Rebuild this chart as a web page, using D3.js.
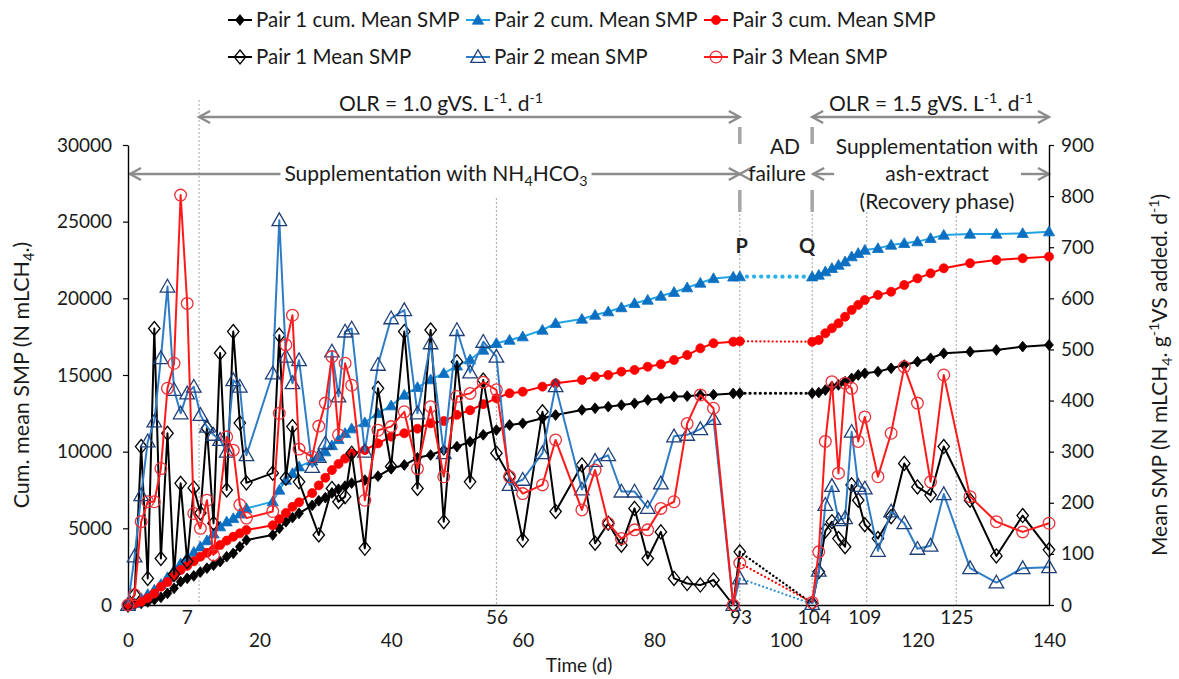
<!DOCTYPE html>
<html><head><meta charset="utf-8">
<script src="https://cdn.jsdelivr.net/npm/d3@7"></script>
<style>
body{margin:0;background:#fff;}
svg{display:block;}
</style></head><body>
<svg id="chart" width="1179" height="679"></svg>
<script>
// ---------------- DATA ----------------
// Phase 1 (supplementation with NH4HCO3), days 0-93
const DAYS_A = [0,1,2,3,4,5,6,7,8,9,10,11,12,13,14,15,16,17,18,22,23,24,25,26,28,29,30,31,32,33,34,36,38,40,42,44,46,48,50,52,54,56,58,60,63,65,69,71,73,75,77,79,81,83,85,87,89,92,93];
const P1_CUM_A = [0,30,100,200,350,500,760,1090,1520,1740,1900,2150,2400,2600,2830,3150,3370,3800,4240,4565,5000,5430,5700,5980,6500,6800,7000,7300,7550,7750,7950,8150,8400,8900,9130,9600,9780,10110,10330,10650,11100,11410,11740,11850,12180,12390,12720,12830,12935,13040,13150,13370,13480,13590,13620,13700,13720,13800,13810];
const P2_CUM_A = [0,110,435,700,980,1350,1800,2280,2700,3100,3450,3800,4200,4650,5110,5430,5650,5950,6300,6740,7500,8150,8590,9020,9400,9670,10000,10400,10800,11200,11500,11900,12500,13000,13700,14200,14700,15110,15600,16000,16630,17070,17280,17500,17935,18370,18650,18910,19130,19400,19675,19890,20150,20400,20700,21000,21300,21400,21420];
const P3_CUM_A = [0,80,215,450,750,1190,1500,1900,2280,2550,2850,3150,3400,3600,3910,4200,4450,4675,4890,5200,5600,6000,6400,6700,7300,7800,8300,8800,9200,9550,9890,10110,10540,10980,11200,11500,11850,12000,12400,12700,13100,13480,13810,13910,14240,14460,14675,14890,15000,15220,15330,15540,15700,15980,16300,16740,17070,17170,17200];
const P1_MEAN_A = [0,20,310,52,541,91,336,60,238,85,229,180,346,160,493,225,535,356,239,258,528,248,349,241,null,137,null,228,202,212,297,111,424,271,535,228,538,163,476,241,440,297,251,127,378,183,274,121,160,117,189,91,143,52,42,39,49,0,104];
const P2_MEAN_A = [0,95,215,320,359,483,623,421,375,414,427,372,349,333,323,300,440,427,293,453,753,486,434,479,270,290,316,496,408,535,541,300,470,561,577,375,512,297,538,455,515,486,235,245,297,428,226,282,293,222,222,190,238,330,333,344,364,0,52];
const P3_MEAN_A = [0,20,163,202,202,267,424,473,802,590,179,150,205,98,null,329,303,196,170,183,375,509,567,305,290,350,395,486,333,473,430,205,342,349,378,267,388,251,408,414,436,421,251,218,235,323,186,264,160,130,147,147,189,202,355,411,385,0,82];

// Phase 2 (recovery with ash-extract), days 104-140
const DAYS_B = [104,105,106,107,108,109,110,111,112,114,116,118,120,122,124,128,132,136,140];
const P1_CUM_B = [13810,13850,14020,14240,14350,14560,14780,15000,15110,15220,15440,15650,15870,16090,16415,16520,16630,16850,16960];
const P2_CUM_B = [21410,21520,21740,21960,22170,22390,22720,22940,23150,23260,23480,23590,23700,23910,24130,24200,24200,24240,24350];
const P3_CUM_B = [17170,17280,17720,18050,18370,18800,19240,19570,19890,20220,20430,20870,21300,21630,21960,22290,22500,22610,22720];
const P1_MEAN_B = [3,65,145,163,130,114,235,205,157,130,173,277,231,215,310,205,96,175,108];
const P2_MEAN_B = [2,67,196,233,166,170,339,233,228,106,183,160,110,116,217,72,44,72,74];
const P3_MEAN_B = [5,104,320,437,258,434,424,320,368,251,336,466,395,241,450,212,163,143,160];

// Tick labels
const X_TICKS = [0,20,40,60,80,100,120,140];
const LEFT_TICKS = [0,5000,10000,15000,20000,25000,30000];
const RIGHT_TICKS = [0,100,200,300,400,500,600,700,800,900];
const KEY_DAY_LABELS = ["7","56","93","104","109","125"];
const KEY_DAY_LABEL_AT = [9,56.1,93.2,104.3,112,126];   // where the label text sits on the time axis
const KEY_DAY_LINE_AT  = [10.8,56,93,104,112.3,125.9];   // where the dotted guide is drawn
const KEY_DAY_LINE_TOP = [100,198,210,210,212,212];

const SERIES_NAMES = ["Pair 1 cum. Mean SMP","Pair 2 cum. Mean SMP","Pair 3 cum. Mean SMP","Pair 1 Mean SMP","Pair 2 mean SMP","Pair 3 Mean SMP"];

// ---------------- SETUP ----------------
const FONT = "Lato, 'Liberation Sans', sans-serif";
const TXT = "#1a1a1a";
const GRAY = "#8c8c8c";
const ANN_FS = 21;
const svg = d3.select("#chart").style("font-family", FONT);
const m = {l:128, r:1049, t:145, b:605};
const x = d3.scaleLinear().domain([0,140]).range([m.l, m.r]);
const yL = d3.scaleLinear().domain([0,30000]).range([m.b, m.t]);
const yR = d3.scaleLinear().domain([0,900]).range([m.b, m.t]);

const STY = {
  c1: {line:"#000", mark:"diamond", fill:"#000", stroke:"#000", size:1},
  c2: {line:"#22a3e3", mark:"triangle", fill:"#0b6fc2", stroke:"#0b6fc2", size:1},
  c3: {line:"#ff0000", mark:"circle", fill:"#f00", stroke:"#f00", size:1},
  m1: {line:"#000", mark:"diamond", fill:"none", stroke:"#000", size:1.3},
  m2: {line:"#2f7cc6", mark:"triangle", fill:"none", stroke:"#1f3f78", size:1.3},
  m3: {line:"#ff1a1a", mark:"circle", fill:"none", stroke:"#e8333b", size:1.3}
};

function markerPath(type, s){
  if(type==="diamond"){ const w=4.4*s, h=5.4*s; return `M0,${-h}L${w},0L0,${h}L${-w},0Z`; }
  if(type==="triangle"){ const w=5.6*s, h=5.6*s; return `M0,${-h}L${w},${h*0.75}L${-w},${h*0.75}Z`; }
  const r=4.5*s; return `M${r},0A${r},${r} 0 1,1 ${-r},0A${r},${r} 0 1,1 ${r},0Z`;
}

// ---------------- GUIDES / ANNOTATIONS ----------------
const ann = svg.append("g");
KEY_DAY_LINE_AT.forEach((d,i)=>{
  ann.append("line").attr("x1",x(d)).attr("x2",x(d)).attr("y1",KEY_DAY_LINE_TOP[i]).attr("y2",m.b)
    .attr("stroke","#9a9a9a").attr("stroke-width",0.9).attr("stroke-dasharray","2,2");
});
[93,104].forEach(d=>{
  [[127,144],[190,212]].forEach(s=>{
    ann.append("line").attr("x1",x(d)).attr("x2",x(d)).attr("y1",s[0]).attr("y2",s[1])
      .attr("stroke","#a6a6a6").attr("stroke-width",3.5);
  });
});

function chevron(tipX, y, dir){
  const L=11, H=6;
  ann.append("path").attr("d",`M${tipX - dir*L},${y-H}L${tipX},${y}L${tipX - dir*L},${y+H}`)
    .attr("fill","none").attr("stroke",GRAY).attr("stroke-width",2.4);
}
function hline(x1,x2,y){
  ann.append("line").attr("x1",x1).attr("x2",x2).attr("y1",y).attr("y2",y).attr("stroke",GRAY).attr("stroke-width",2.4);
}
function richText(g, xPos, yPos, parts, size, anchor){
  const t = g.append("text").attr("x",xPos).attr("y",yPos).attr("font-size",size)
    .attr("fill",TXT).attr("text-anchor",anchor||"middle");
  let shift=0;
  parts.forEach(p=>{
    const want = p.sup ? -0.38*size : p.sub ? 0.25*size : 0;
    const ts = t.append("tspan").text(p.t).attr("dy", want - shift);
    if(p.sup||p.sub) ts.attr("font-size", size*0.68);
    shift = want;
  });
  return t;
}
function plainText(xPos, yPos, s, size){
  ann.append("text").attr("x",xPos).attr("y",yPos).attr("text-anchor","middle").attr("font-size",size).attr("fill",TXT).text(s);
}

// OLR arrows
hline(x(10.8), x(93), 117); chevron(x(10.8),117,-1); chevron(x(93),117,1);
hline(x(104), x(140), 117); chevron(x(104),117,-1); chevron(x(140),117,1);
richText(ann, 441, 111, [{t:"OLR = 1.0 gVS. L"},{t:"-1",sup:true},{t:". d"},{t:"-1",sup:true}], ANN_FS);
richText(ann, 931, 111, [{t:"OLR = 1.5 gVS. L"},{t:"-1",sup:true},{t:". d"},{t:"-1",sup:true}], ANN_FS);

// Supplementation arrow
const supT = richText(ann, 436, 181, [{t:"Supplementation with NH"},{t:"4",sub:true},{t:"HCO"},{t:"3",sub:true}], ANN_FS);
const bb = supT.node().getBBox();
hline(x(0)+2, bb.x-4, 174); hline(bb.x+bb.width+4, x(93), 174);
chevron(x(0)+2,174,-1); chevron(x(93),174,1); chevron(x(93),174,-1);
hline(x(104), x(104)+22, 174); chevron(x(104)+1,174,-1);
hline(x(140)-28, x(140), 174); chevron(x(140),174,1);
plainText(785,154,"AD",ANN_FS);
plainText(777,181,"failure",ANN_FS);
plainText(937,154,"Supplementation with",ANN_FS);
plainText(937,181,"ash-extract",ANN_FS);
plainText(937,209,"(Recovery phase)",ANN_FS);
ann.append("text").attr("x",x(93)+2).attr("y",253).attr("text-anchor","middle").attr("font-size",20).attr("font-weight","bold").attr("fill","#222").text("P");
ann.append("text").attr("x",x(104)-5).attr("y",253).attr("text-anchor","middle").attr("font-size",20).attr("font-weight","bold").attr("fill","#222").text("Q");

// ---------------- AXES ----------------
const axL = svg.append("g").attr("transform",`translate(${m.l},0)`)
  .call(d3.axisLeft(yL).tickValues(LEFT_TICKS).tickSize(5).tickSizeOuter(0).tickPadding(11).tickFormat(d3.format("d")));
const axR = svg.append("g").attr("transform",`translate(${m.r},0)`)
  .call(d3.axisRight(yR).tickValues(RIGHT_TICKS).tickSize(5).tickSizeOuter(0).tickPadding(7).tickFormat(d3.format("d")));
const axB = svg.append("g").attr("transform",`translate(0,${m.b})`)
  .call(d3.axisBottom(x).tickValues(X_TICKS).tickSize(0).tickPadding(29).tickFormat(d3.format("d")));
[axL,axR,axB].forEach(a=>{
  a.select(".domain").attr("stroke","#000").attr("stroke-width",1.4);
  a.selectAll(".tick line").attr("stroke","#000").attr("stroke-width",1.2);
  a.selectAll("text").attr("font-size",19).attr("fill",TXT).attr("font-family",FONT);
});
KEY_DAY_LABELS.forEach((lab,i)=>{
  svg.append("text").attr("x",x(KEY_DAY_LABEL_AT[i])).attr("y",624).attr("text-anchor","middle")
    .attr("font-size",19).attr("fill",TXT).text(lab);
});
svg.append("text").attr("x",579).attr("y",672).attr("text-anchor","middle").attr("font-size",19).attr("fill",TXT).text("Time (d)");
const tl = richText(svg, 0, 0, [{t:"Cum. mean SMP (N mLCH"},{t:"4",sub:true},{t:".)"}], 21.5);
tl.attr("transform","translate(29,375) rotate(-90)");
const tr = richText(svg, 0, 0, [{t:"Mean SMP (N mLCH"},{t:"4",sub:true},{t:". g"},{t:"-1",sup:true},{t:"VS added. d"},{t:"-1",sup:true},{t:")"}], 21);
tr.attr("transform","translate(1167,375) rotate(-90)");

// ---------------- SERIES ----------------
const plot = svg.append("g");
function pts(days, vals){ return days.map((d,i)=>[d, vals[i]]).filter(p=>p[1]!==null); }
function drawSeries(days, vals, y, st){
  const p = pts(days, vals);
  plot.append("path").datum(p).attr("fill","none").attr("stroke",st.line).attr("stroke-width",2)
    .attr("stroke-linejoin","round").attr("d", d3.line().x(d=>x(d[0])).y(d=>y(d[1])));
  plot.append("g").selectAll("path").data(p).join("path")
    .attr("transform",d=>`translate(${x(d[0])},${y(d[1])})`)
    .attr("d", markerPath(st.mark, st.size))
    .attr("fill", st.fill).attr("stroke", st.stroke).attr("stroke-width", st.fill==="none"?1.3:0.8);
}
function drawGap(daysA, valsA, daysB, valsB, y, color, dash, w){
  const a=[daysA[daysA.length-1], valsA[valsA.length-1]], b=[daysB[0], valsB[0]];
  plot.append("path").datum([a,b]).attr("fill","none").attr("stroke",color).attr("stroke-width",w)
    .attr("stroke-linecap","round").attr("stroke-dasharray",dash)
    .attr("d", d3.line().x(d=>x(d[0])).y(d=>y(d[1])));
}
drawGap(DAYS_A,P1_CUM_A,DAYS_B,P1_CUM_B,yL,"#000","0.1,5",3.2);
drawGap(DAYS_A,P2_CUM_A,DAYS_B,P2_CUM_B,yL,"#29b2ea","0.1,7",4.2);
drawGap(DAYS_A,P3_CUM_A,DAYS_B,P3_CUM_B,yL,"#f00","0.1,4",2.2);
drawSeries(DAYS_A,P1_CUM_A,yL,STY.c1); drawSeries(DAYS_B,P1_CUM_B,yL,STY.c1);
drawSeries(DAYS_A,P2_CUM_A,yL,STY.c2); drawSeries(DAYS_B,P2_CUM_B,yL,STY.c2);
drawSeries(DAYS_A,P3_CUM_A,yL,STY.c3); drawSeries(DAYS_B,P3_CUM_B,yL,STY.c3);
drawGap(DAYS_A,P1_MEAN_A,DAYS_B,P1_MEAN_B,yR,"#000","0.1,4",2.4);
drawGap(DAYS_A,P2_MEAN_A,DAYS_B,P2_MEAN_B,yR,"#2f8fd6","0.1,4",2.2);
drawGap(DAYS_A,P3_MEAN_A,DAYS_B,P3_MEAN_B,yR,"#f00","0.1,4",2.2);
drawSeries(DAYS_A,P1_MEAN_A,yR,STY.m1); drawSeries(DAYS_B,P1_MEAN_B,yR,STY.m1);
drawSeries(DAYS_A,P2_MEAN_A,yR,STY.m2); drawSeries(DAYS_B,P2_MEAN_B,yR,STY.m2);
drawSeries(DAYS_A,P3_MEAN_A,yR,STY.m3); drawSeries(DAYS_B,P3_MEAN_B,yR,STY.m3);

// ---------------- LEGEND ----------------
const legStyles = [STY.c1,STY.c2,STY.c3,STY.m1,STY.m2,STY.m3];
const legX = [240,478,716];
const legY = [20,57];
const leg = svg.append("g");
SERIES_NAMES.forEach((name,i)=>{
  const cx = legX[i%3], cy = legY[Math.floor(i/3)], st = legStyles[i];
  leg.append("line").attr("x1",cx-12).attr("x2",cx+12).attr("y1",cy).attr("y2",cy).attr("stroke",st.line).attr("stroke-width",2);
  leg.append("path").attr("transform",`translate(${cx},${cy})`).attr("d",markerPath(st.mark, st.size))
    .attr("fill",st.fill).attr("stroke",st.stroke).attr("stroke-width",st.fill==="none"?1.3:0.8);
  leg.append("text").attr("x",cx+16).attr("y",cy+7).attr("font-size",20.5).attr("fill",TXT).text(name);
});
</script>
</body></html>
